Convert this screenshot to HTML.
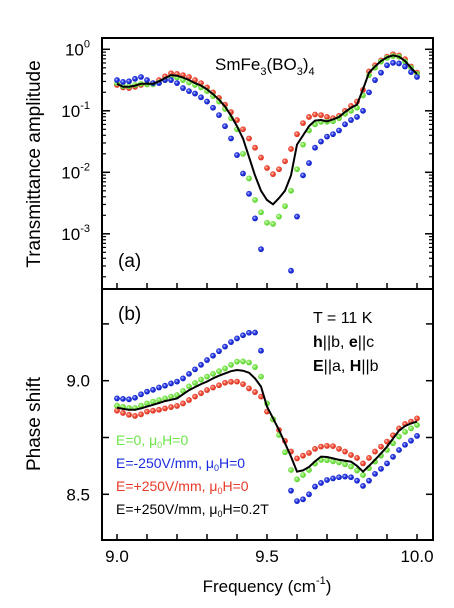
<!DOCTYPE html>
<html><head><meta charset="utf-8"><style>
html,body{margin:0;padding:0;background:#fff;}
svg{display:block;font-family:"Liberation Sans",Arial,sans-serif;}
</style></head><body>
<svg id="chart" width="454" height="608" viewBox="0 0 454 608" xmlns="http://www.w3.org/2000/svg">
<defs>
<radialGradient id="gR" cx="0.4" cy="0.4" r="0.6"><stop offset="0" stop-color="#ffd0c8"/><stop offset="0.45" stop-color="#f0503c"/><stop offset="1" stop-color="#d8321e"/></radialGradient>
<radialGradient id="gG" cx="0.4" cy="0.4" r="0.6"><stop offset="0" stop-color="#e0ffd0"/><stop offset="0.45" stop-color="#7ee650"/><stop offset="1" stop-color="#5ccf30"/></radialGradient>
<radialGradient id="gB" cx="0.4" cy="0.4" r="0.6"><stop offset="0" stop-color="#c8d0ff"/><stop offset="0.45" stop-color="#2838e0"/><stop offset="1" stop-color="#1020c0"/></radialGradient>
</defs>
<g id="topPanel"></g>
<g id="botPanel"></g>
<g id="axesG"></g>
<text x="0" y="0" transform="translate(40,164) rotate(-90)" text-anchor="middle" font-size="19">Transmittance amplitude</text>
<text x="0" y="0" transform="translate(40,424) rotate(-90)" text-anchor="middle" font-size="19">Phase shift</text>
<text x="267" y="592" text-anchor="middle" font-size="17">Frequency (cm<tspan font-size="11" dy="-8">-1</tspan><tspan dy="8">)</tspan></text>
<text x="215" y="70" font-size="17">SmFe<tspan font-size="11" dy="5">3</tspan><tspan dy="-5">(BO</tspan><tspan font-size="11" dy="5">3</tspan><tspan dy="-5">)</tspan><tspan font-size="11" dy="5">4</tspan></text>
<text x="118" y="267" font-size="19">(a)</text>
<text x="118" y="320" font-size="19">(b)</text>
<text x="313" y="323" font-size="16">T = 11 K</text>
<text x="313" y="347" font-size="16"><tspan font-weight="bold">h</tspan>||b, <tspan font-weight="bold">e</tspan>||c</text>
<text x="313" y="371" font-size="16"><tspan font-weight="bold">E</tspan>||a, <tspan font-weight="bold">H</tspan>||b</text>
<g font-size="14">
<text x="116" y="445" fill="#6ee64a">E=0, μ<tspan font-size="9" dy="3">0</tspan><tspan dy="-3">H=0</tspan></text>
<text x="116" y="468" fill="#1a2be0">E=-250V/mm, μ<tspan font-size="9" dy="3">0</tspan><tspan dy="-3">H=0</tspan></text>
<text x="116" y="491" fill="#e83a28">E=+250V/mm, μ<tspan font-size="9" dy="3">0</tspan><tspan dy="-3">H=0</tspan></text>
<text x="116" y="514" fill="#000">E=+250V/mm, μ<tspan font-size="9" dy="3">0</tspan><tspan dy="-3">H=0.2T</tspan></text>
</g>
</svg>
<script>
const freq=[9.00,9.02,9.04,9.06,9.08,9.10,9.12,9.14,9.16,9.18,9.20,9.22,9.24,9.26,9.28,9.30,9.32,9.34,9.36,9.38,9.40,9.42,9.44,9.46,9.48,9.50,9.52,9.54,9.56,9.58,9.60,9.62,9.64,9.66,9.68,9.70,9.72,9.74,9.76,9.78,9.80,9.82,9.84,9.86,9.88,9.90,9.92,9.94,9.96,9.98,10.00];
// log10 transmittance
const transRed=[-0.58,-0.62,-0.63,-0.61,-0.58,-0.57,-0.55,-0.50,-0.44,-0.39,-0.40,-0.42,-0.45,-0.50,-0.55,-0.62,-0.70,-0.79,-0.90,-1.02,-1.15,-1.30,-1.45,-1.60,-1.76,-1.93,-2.03,-1.95,-1.82,-1.62,-1.38,-1.20,-1.10,-1.06,-1.07,-1.10,-1.12,-1.08,-1.00,-0.92,-0.85,-0.66,-0.36,-0.26,-0.18,-0.12,-0.08,-0.10,-0.16,-0.28,-0.38];
const transGreen=[-0.55,-0.60,-0.60,-0.58,-0.56,-0.57,-0.57,-0.54,-0.50,-0.45,-0.46,-0.50,-0.54,-0.58,-0.62,-0.68,-0.76,-0.85,-0.97,-1.12,-1.30,-1.70,-2.10,-2.45,-2.65,-2.82,-2.84,-2.72,-2.55,-2.30,-1.95,-1.55,-1.32,-1.22,-1.18,-1.18,-1.17,-1.12,-1.05,-1.00,-0.95,-0.75,-0.42,-0.30,-0.20,-0.14,-0.11,-0.12,-0.20,-0.30,-0.40];
const transBlue=[-0.50,-0.53,-0.52,-0.48,-0.45,-0.50,-0.55,-0.55,-0.50,-0.50,-0.55,-0.63,-0.68,-0.72,-0.78,-0.85,-0.95,-1.07,-1.25,-1.45,-1.72,-2.02,-2.35,-2.75,-3.25,null,null,null,null,-3.60,-2.72,-2.05,-1.85,-1.60,-1.50,-1.42,-1.38,-1.32,-1.22,-1.15,-1.10,-1.00,-0.70,-0.50,-0.38,-0.26,-0.22,-0.23,-0.28,-0.37,-0.45];
const transBlack=[-0.56,-0.61,-0.61,-0.59,-0.56,-0.56,-0.56,-0.52,-0.47,-0.42,-0.43,-0.46,-0.50,-0.55,-0.59,-0.65,-0.73,-0.82,-0.93,-1.08,-1.25,-1.45,-1.75,-2.05,-2.30,-2.45,-2.52,-2.42,-2.30,-2.05,-1.55,-1.40,-1.25,-1.16,-1.15,-1.17,-1.14,-1.10,-1.02,-0.95,-0.90,-0.65,-0.38,-0.28,-0.19,-0.13,-0.10,-0.12,-0.19,-0.30,-0.40];
// phase shift
const phaseRed=[8.868,8.858,8.850,8.845,8.852,8.864,8.868,8.872,8.878,8.884,8.889,8.900,8.915,8.930,8.945,8.959,8.970,8.980,8.991,8.995,8.996,8.985,8.966,8.950,8.930,8.864,8.830,8.783,8.735,8.688,8.658,8.670,8.682,8.700,8.710,8.713,8.712,8.700,8.688,8.673,8.660,8.636,8.660,8.688,8.710,8.732,8.760,8.790,8.810,8.820,8.834];
const phaseGreen=[8.890,8.885,8.880,8.880,8.890,8.900,8.908,8.915,8.922,8.930,8.937,8.955,8.975,8.990,9.005,9.018,9.030,9.042,9.054,9.070,9.084,9.085,9.080,9.060,9.018,8.900,8.830,8.761,8.685,8.607,8.566,8.585,8.607,8.635,8.651,8.650,8.645,8.640,8.632,8.622,8.605,8.585,8.615,8.644,8.670,8.695,8.725,8.754,8.775,8.790,8.805];
const phaseBlue=[8.922,8.920,8.918,8.925,8.940,8.952,8.960,8.970,8.978,8.988,8.996,9.010,9.030,9.050,9.070,9.091,9.110,9.130,9.150,9.170,9.186,9.200,9.211,9.212,9.132,null,null,null,null,8.516,8.470,8.478,8.500,8.534,8.550,8.563,8.570,8.575,8.578,8.575,8.560,8.537,8.560,8.590,8.612,8.636,8.665,8.695,8.718,8.736,8.757];
const phaseBlack=[8.881,8.876,8.872,8.872,8.878,8.886,8.894,8.902,8.910,8.916,8.922,8.940,8.958,8.972,8.985,8.996,9.010,9.022,9.032,9.042,9.047,9.044,9.035,9.010,8.974,8.886,8.835,8.783,8.725,8.666,8.600,8.605,8.620,8.645,8.666,8.664,8.658,8.652,8.648,8.644,8.625,8.600,8.625,8.652,8.680,8.710,8.745,8.780,8.800,8.812,8.820];
const xTicks=[9.0,9.5,10.0];
const xTickLabels=["9.0","9.5","10.0"];
const logTicks=[0,-1,-2,-3];
const logTickLabels=["0","-1","-2","-3"];
const phaseTicks=[8.5,9.0];
const phaseTickLabels=["8.5","9.0"];

const NS="http://www.w3.org/2000/svg";
const L=102,R=433,T1=38,B1=289,B2=540;
const xS=f=>117+(f-9.0)*300;
const yLog=v=>49.3-v*61.5;
const yPh=v=>380.7-(v-9.0)*227.2;
function mk(tag,attrs,parent){const e=document.createElementNS(NS,tag);for(const k in attrs)e.setAttribute(k,attrs[k]);parent.appendChild(e);return e;}
const topG=document.getElementById('topPanel'),botG=document.getElementById('botPanel'),axG=document.getElementById('axesG');
function dots(vals,ys,grad,parent,name,yMin,yMax){
  const g=mk('g',{},parent);
  
  
  vals.forEach((v,i)=>{ if(v===null)return; const y=ys(v); if(y>yMax||y<yMin)return;
    const c=mk('circle',{cx:xS(freq[i]),cy:y,r:2.9,fill:'url(#'+grad+')'},g);
    
    });
}
function line(vals,ys,parent,name){
  let d='';vals.forEach((v,i)=>{if(v===null)return;d+=(d?'L':'M')+xS(freq[i]).toFixed(1)+','+ys(v).toFixed(1);});
  const p=mk('path',{d:d,fill:'none',stroke:'#000','stroke-width':2},parent);
  
  
}
dots(transRed,yLog,'gR',topG,'trans-red-series',T1,B1);
dots(transGreen,yLog,'gG',topG,'trans-green-series',T1,B1);
dots(transBlue,yLog,'gB',topG,'trans-blue-series',T1,B1);
line(transBlack,yLog,topG,'trans-black-line');
dots(phaseRed,yPh,'gR',botG,'phase-red-series',B1,B2);
dots(phaseGreen,yPh,'gG',botG,'phase-green-series',B1,B2);
dots(phaseBlue,yPh,'gB',botG,'phase-blue-series',B1,B2);
line(phaseBlack,yPh,botG,'phase-black-line');
const f1=mk('rect',{x:L,y:T1,width:R-L,height:B1-T1,fill:'none',stroke:'#000','stroke-width':2},axG);


const f2=mk('rect',{x:L,y:B1,width:R-L,height:B2-B1,fill:'none',stroke:'#000','stroke-width':2},axG);


for(let k=0;k<=10;k++){const x=xS(9+k*0.1);
  mk('line',{x1:x,x2:x,y1:B1,y2:B1-6,stroke:'#000','stroke-width':1.5},axG);
  mk('line',{x1:x,x2:x,y1:B2,y2:B2-6,stroke:'#000','stroke-width':1.5},axG);}
xTicks.forEach((t,i)=>{const tx=mk('text',{x:xS(t),y:562,'text-anchor':'middle','font-size':17},axG);tx.textContent=xTickLabels[i];
  
  });
logTicks.forEach((t,i)=>{const y=yLog(t);
  mk('line',{x1:L,x2:L+8,y1:y,y2:y,stroke:'#000','stroke-width':1.5},axG);
  mk('line',{x1:R,x2:R-8,y1:y,y2:y,stroke:'#000','stroke-width':1.5},axG);
  const tx=mk('text',{x:90,y:y+6,'text-anchor':'end','font-size':17},axG);
  tx.textContent='10';const ts=mk('tspan',{'font-size':11,dy:-8},tx);ts.textContent=logTickLabels[i];
  
  });
for(let d=-4;d<=0;d++){for(let m=2;m<=9;m++){const y=yLog(d+Math.log10(m));if(y<T1+1||y>B1-1)continue;
  mk('line',{x1:L,x2:L+4,y1:y,y2:y,stroke:'#000','stroke-width':1.2},axG);
  mk('line',{x1:R,x2:R-4,y1:y,y2:y,stroke:'#000','stroke-width':1.2},axG);}}
[8.5,8.75,9.0,9.25].forEach(t=>{const y=yPh(t);
  mk('line',{x1:L,x2:L+7,y1:y,y2:y,stroke:'#000','stroke-width':1.5},axG);
  mk('line',{x1:R,x2:R-7,y1:y,y2:y,stroke:'#000','stroke-width':1.5},axG);});
phaseTicks.forEach((t,i)=>{const tx=mk('text',{x:90,y:yPh(t)+6,'text-anchor':'end','font-size':17},axG);tx.textContent=phaseTickLabels[i];
  
  });
</script>
</body></html>
